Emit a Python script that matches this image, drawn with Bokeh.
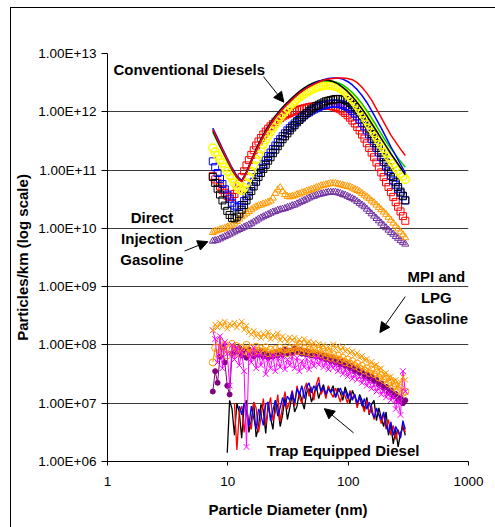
from bokeh.plotting import figure
from bokeh.models import Range1d, FixedTicker, CustomJSTickFormatter, Label, Arrow, NormalHead
from bokeh.embed import file_html
from bokeh.resources import INLINE

NAN = float("nan")

# ---------------- data (series values stored as log10 of particles/km) ----------------
diam_main = [7.50, 8.22, 9.02, 9.89, 10.84, 11.89, 13.03, 14.29, 15.67, 17.18,
             18.84, 20.65, 22.65, 24.83, 27.23, 29.85, 32.73, 35.89, 39.36, 43.15,
             47.32, 51.88, 56.89, 62.37, 68.39, 74.99, 82.22, 90.16, 98.86, 108.4,
             118.9, 130.3, 142.9, 156.7, 171.8, 188.4, 206.5, 226.5, 248.3, 272.3,
             298.5]

diam_fine = [7.50, 7.85, 8.22, 8.61, 9.02, 9.44, 9.89, 10.35, 10.84, 11.35,
             11.89, 12.45, 13.03, 13.65, 14.29, 14.96, 15.67, 16.41, 17.18, 17.99,
             18.84, 19.72, 20.65, 21.63, 22.65, 23.71, 24.83, 26.00, 27.23, 28.51,
             29.85, 31.26, 32.73, 34.28, 35.89, 37.58, 39.36, 41.21, 43.15, 45.19,
             47.32, 49.55, 51.88, 54.33, 56.89, 59.57, 62.37, 65.31, 68.39, 71.61,
             74.99, 78.52, 82.22, 86.10, 90.16, 94.41, 98.86, 103.5, 108.4, 113.5,
             118.9, 124.5, 130.3, 136.5, 142.9, 149.6, 156.7, 164.1, 171.8, 179.9,
             188.4, 197.2, 206.5, 216.3, 226.5, 237.1, 248.3, 260.0, 272.3, 285.1,
             298.5]

# Conventional diesels - plain lines (main grid)
conv_red_line = [11.70, 11.52, 11.35, 11.18, 11.02, 10.88, 10.80, 10.95, 11.15, 11.33,
                 11.50, 11.65, 11.78, 11.90, 12.00, 12.09, 12.17, 12.25, 12.32, 12.38,
                 12.43, 12.47, 12.51, 12.54, 12.56, 12.57, 12.58, 12.58, 12.57, 12.55,
                 12.50, 12.42, 12.32, 12.20, 12.05, 11.90, 11.75, 11.60, 11.48, 11.36,
                 11.25]
conv_blue_line = [11.72, 11.55, 11.37, 11.20, 11.04, 10.90, 10.82, 10.96, 11.15, 11.33,
                  11.50, 11.65, 11.78, 11.90, 12.00, 12.09, 12.17, 12.25, 12.32, 12.38,
                  12.43, 12.48, 12.52, 12.55, 12.57, 12.58, 12.58, 12.56, 12.52, 12.46,
                  12.38, 12.28, 12.16, 12.02, 11.87, 11.72, 11.56, 11.40, 11.25, 11.10,
                  10.95]
conv_green_line = [11.65, 11.48, 11.32, 11.15, 11.00, 10.87, 10.80, 10.95, 11.15, 11.34,
                   11.51, 11.66, 11.79, 11.91, 12.01, 12.10, 12.18, 12.26, 12.33, 12.39,
                   12.44, 12.48, 12.51, 12.53, 12.53, 12.52, 12.50, 12.46, 12.40, 12.33,
                   12.24, 12.14, 12.02, 11.89, 11.76, 11.62, 11.49, 11.37, 11.26, 11.15,
                   11.05]
conv_black_line = [11.68, 11.50, 11.33, 11.17, 11.01, 10.88, 10.81, 10.97, 11.17, 11.36,
                   11.53, 11.68, 11.81, 11.93, 12.03, 12.12, 12.20, 12.28, 12.35, 12.41,
                   12.46, 12.50, 12.53, 12.54, 12.54, 12.52, 12.48, 12.42, 12.35, 12.26,
                   12.16, 12.05, 11.93, 11.80, 11.67, 11.54, 11.41, 11.28, 11.16, 11.04,
                   10.92]

# Conventional diesels - marker series (fine grid)
conv_yellow_circle = [11.38, 11.31, 11.25, 11.18, 11.12, 11.05, 10.98, 10.91, 10.85, 10.78,
                      10.72, 10.67, 10.65, 10.70, 10.78, 10.88, 10.98, 11.08, 11.18, 11.27,
                      11.36, 11.44, 11.52, 11.59, 11.66, 11.73, 11.79, 11.85, 11.91, 11.96,
                      12.01, 12.06, 12.10, 12.14, 12.18, 12.22, 12.25, 12.28, 12.31, 12.34,
                      12.36, 12.38, 12.40, 12.42, 12.43, 12.44, 12.45, 12.46, 12.46, 12.46,
                      12.45, 12.44, 12.42, 12.40, 12.37, 12.34, 12.30, 12.26, 12.21, 12.16,
                      12.10, 12.04, 11.98, 11.92, 11.85, 11.78, 11.71, 11.64, 11.57, 11.50,
                      11.43, 11.37, 11.30, 11.23, 11.17, 11.11, 11.05, 10.99, 10.94, 10.89,
                      10.84]
conv_red_square = [10.90, 10.84, 10.78, 10.72, 10.66, 10.61, 10.56, 10.54, 10.54, 10.59,
                   10.66, 10.77, 10.88, 10.98, 11.08, 11.17, 11.26, 11.34, 11.42, 11.49,
                   11.55, 11.61, 11.66, 11.71, 11.75, 11.79, 11.83, 11.86, 11.89, 11.92,
                   11.94, 11.96, 11.98, 12.00, 12.01, 12.03, 12.04, 12.05, 12.06, 12.07,
                   12.08, 12.09, 12.09, 12.10, 12.10, 12.10, 12.10, 12.10, 12.10, 12.10,
                   12.09, 12.08, 12.06, 12.04, 12.01, 11.98, 11.94, 11.90, 11.85, 11.80,
                   11.74, 11.68, 11.61, 11.54, 11.46, 11.38, 11.30, 11.22, 11.13, 11.05,
                   10.96, 10.88, 10.79, 10.71, 10.62, 10.54, 10.45, 10.37, 10.29, 10.21,
                   10.13]
conv_blue_square = [11.15, 11.05, 10.95, 10.85, 10.76, 10.67, 10.58, 10.51, 10.44, 10.39,
                    10.36, 10.37, 10.40, 10.47, 10.55, 10.63, 10.72, 10.80, 10.88, 10.96,
                    11.03, 11.10, 11.17, 11.24, 11.30, 11.36, 11.42, 11.48, 11.53, 11.58,
                    11.63, 11.68, 11.72, 11.76, 11.80, 11.84, 11.87, 11.91, 11.94, 11.97,
                    11.99, 12.02, 12.04, 12.06, 12.08, 12.10, 12.11, 12.12, 12.13, 12.14,
                    12.14, 12.14, 12.14, 12.13, 12.12, 12.10, 12.08, 12.05, 12.01, 11.97,
                    11.92, 11.87, 11.81, 11.75, 11.68, 11.61, 11.53, 11.46, 11.38, 11.30,
                    11.22, 11.14, 11.06, 10.98, 10.90, 10.82, 10.75, 10.68, 10.61, 10.55,
                    10.48]
conv_black_square = [10.88, 10.78, 10.68, 10.58, 10.48, 10.39, 10.30, 10.23, 10.18, 10.17,
                     10.20, 10.25, 10.32, 10.40, 10.48, 10.56, 10.64, 10.72, 10.80, 10.88,
                     10.95, 11.02, 11.09, 11.16, 11.22, 11.29, 11.35, 11.41, 11.47, 11.53,
                     11.58, 11.63, 11.68, 11.73, 11.77, 11.82, 11.86, 11.90, 11.94, 11.98,
                     12.01, 12.04, 12.07, 12.10, 12.12, 12.14, 12.16, 12.18, 12.19, 12.20,
                     12.21, 12.22, 12.22, 12.22, 12.21, 12.20, 12.18, 12.15, 12.12, 12.08,
                     12.04, 11.99, 11.94, 11.87, 11.80, 11.71, 11.62, 11.54, 11.46, 11.38,
                     11.30, 11.22, 11.13, 11.05, 10.96, 10.88, 10.79, 10.71, 10.63, 10.56,
                     10.48]

# Direct injection gasoline (fine grid)
di_orange_triangle = [9.93, 9.95, 9.96, 9.98, 9.99, 10.00, 10.02, 10.04, 10.06, 10.09,
                      10.12, 10.16, 10.20, 10.23, 10.26, 10.29, 10.32, 10.35, 10.37, 10.39,
                      10.40, 10.42, 10.43, 10.45, 10.47, 10.52, 10.60, 10.66, 10.70, 10.63,
                      10.58, 10.55, 10.54, 10.55, 10.56, 10.58, 10.59, 10.61, 10.62, 10.64,
                      10.65, 10.67, 10.68, 10.70, 10.71, 10.73, 10.74, 10.75, 10.76, 10.77,
                      10.77, 10.77, 10.76, 10.75, 10.74, 10.73, 10.72, 10.71, 10.69, 10.67,
                      10.65, 10.63, 10.60, 10.57, 10.54, 10.51, 10.47, 10.44, 10.40, 10.36,
                      10.32, 10.28, 10.24, 10.19, 10.14, 10.09, 10.04, 9.99, 9.94, 9.89,
                      9.84]
di_purple_triangle = [9.78, 9.79, 9.80, 9.82, 9.84, 9.86, 9.88, 9.90, 9.92, 9.94,
                      9.96, 9.98, 10.00, 10.02, 10.04, 10.06, 10.08, 10.11, 10.13, 10.16,
                      10.18, 10.20, 10.22, 10.24, 10.26, 10.28, 10.29, 10.31, 10.32, 10.33,
                      10.34, 10.36, 10.37, 10.39, 10.40, 10.42, 10.44, 10.46, 10.48, 10.50,
                      10.52, 10.54, 10.55, 10.57, 10.58, 10.59, 10.60, 10.61, 10.62, 10.62,
                      10.62, 10.62, 10.61, 10.60, 10.58, 10.57, 10.55, 10.53, 10.51, 10.49,
                      10.46, 10.43, 10.40, 10.37, 10.33, 10.29, 10.25, 10.21, 10.17, 10.13,
                      10.09, 10.05, 10.01, 9.97, 9.93, 9.90, 9.86, 9.83, 9.79, 9.76,
                      9.73]

# MPI and LPG gasoline (fine grid)
mpi_orange_x = [8.25, 8.35, 8.30, 8.38, 8.32, 8.40, 8.28, 8.36, 8.33, 8.38,
                8.30, 8.35, 8.40, 8.26, 8.33, 8.22, 8.18, 8.24, 8.15, 8.20,
                8.12, 8.19, 8.14, 8.22, 8.10, 8.17, 8.12, 8.20, 8.08, 8.15,
                8.10, 8.05, 8.13, 8.08, 8.12, 8.02, 8.09, 8.04, 8.10, 8.03,
                8.06, 7.98, 8.04, 7.99, 8.02, 7.95, 8.00, 7.93, 7.97, 7.90,
                8.01, 7.94, 7.98, 7.91, 7.96, 7.89, 7.92, 7.86, 7.89, 7.82,
                7.86, 7.78, 7.81, 7.74, 7.76, 7.68, 7.71, 7.64, 7.66, 7.58,
                7.60, 7.50, 7.52, 7.44, 7.46, 7.38, 7.40, 7.32, 7.36, 7.45,
                7.40]
mpi_orange_circle = [7.70, 7.95, 7.85, 8.05, 7.90, 8.00, 7.82, 7.95, 8.02, 7.88,
                     7.98, 7.85, 7.95, 7.90, 8.00, 7.86, 7.95, 7.88, 7.97, 7.90,
                     7.94, 7.88, 7.96, 7.86, 7.92, 7.85, 7.93, 7.87, 7.95, 7.88,
                     7.92, 7.86, 7.94, 7.88, 7.95, 7.90, 7.96, 7.89, 7.94, 7.88,
                     7.92, 7.86, 7.93, 7.85, 7.90, 7.84, 7.88, 7.80, 7.86, 7.78,
                     7.84, 7.76, 7.82, 7.74, 7.78, 7.70, 7.75, 7.68, 7.72, 7.64,
                     7.68, 7.60, 7.64, 7.56, 7.60, 7.52, 7.57, 7.50, 7.52, 7.44,
                     7.48, 7.40, 7.42, 7.34, 7.36, 7.28, 7.30, 7.22, 7.26, 7.18,
                     7.20]
mpi_purple_circle = [7.20, 7.55, 7.35, 7.80, 7.95, 7.70, 7.30, 7.15, 7.85, 7.95,
                     7.88, 7.95, 7.82, 7.90, 7.78, 7.92, 7.85, 7.80, 7.88, 7.83,
                     7.90, 7.80, 7.86, 7.78, 7.85, 7.80, 7.88, 7.82, 7.90, 7.84,
                     7.92, 7.85, 7.90, 7.86, 7.94, 7.88, 7.92, 7.85, 7.90, 7.84,
                     7.88, 7.82, 7.86, 7.80, 7.84, 7.78, 7.82, 7.75, 7.80, 7.72,
                     7.78, 7.70, 7.74, 7.66, 7.72, 7.64, 7.68, 7.60, 7.64, 7.55,
                     7.60, 7.52, 7.55, 7.46, 7.50, 7.42, 7.46, 7.38, 7.40, 7.32,
                     7.34, 7.26, 7.28, 7.18, 7.22, 7.12, 7.16, 7.05, 7.10, 7.00,
                     7.05]
mpi_magenta_x = [8.25, 8.10, 7.70, 8.15, 7.60, 8.05, 7.85, 7.30, 8.00, 7.75,
                 7.95, 7.65, 7.90, 7.55, 6.25, 7.85, 7.70, 7.95, 7.60, 7.85,
                 7.65, 7.80, 7.50, 7.75, 7.60, 7.82, 7.55, 7.78, 7.62, 7.80,
                 7.58, 7.75, 7.65, 7.80, 7.60, 7.78, 7.55, 7.72, 7.62, 7.76,
                 7.58, 7.74, 7.64, 7.80, 7.66, 7.75, 7.62, 7.70, 7.58, 7.68,
                 7.60, 7.66, 7.55, 7.62, 7.50, 7.58, 7.46, 7.55, 7.42, 7.50,
                 7.40, 7.46, 7.35, 7.42, 7.30, 7.38, 7.25, 7.32, 7.20, 7.28,
                 7.15, 7.22, 7.10, 7.18, 7.05, 7.12, 6.90, 7.05, 6.80, 7.55,
                 7.20]

# Trap equipped diesel (fine grid)
trap_black = [NAN, NAN, NAN, NAN, NAN, NAN, 6.15, 7.05, 6.90, 6.45,
              7.00, 6.85, 6.40, 6.95, 7.05, 6.50, 6.70, 7.02, 6.42, 6.60,
              6.98, 6.88, 6.48, 7.00, 6.75, 6.55, 7.05, 6.95, 6.60, 6.80,
              7.10, 6.72, 6.92, 7.15, 6.85, 6.95, 7.20, 7.05, 6.90, 7.18,
              7.25, 7.02, 7.15, 7.30, 7.08, 7.22, 7.32, 7.12, 7.28, 7.20,
              7.30, 7.10, 7.26, 7.18, 7.05, 7.28, 7.15, 7.00, 7.22, 7.12,
              6.95, 7.15, 7.05, 6.88, 7.10, 6.80, 6.98, 7.05, 6.70, 6.92,
              6.75, 6.60, 6.85, 6.45, 6.62, 6.30, 6.55, 6.25, 6.48, 6.60,
              6.45]
trap_red = [NAN, NAN, NAN, NAN, NAN, NAN, NAN, NAN, NAN, 7.00,
            6.20, 6.85, 6.95, 6.50, 6.88, 6.70, 6.55, 7.02, 6.92, 6.50,
            6.75, 7.08, 6.62, 6.90, 7.10, 6.70, 6.85, 7.15, 6.68, 6.95,
            7.20, 6.90, 7.05, 7.22, 6.95, 7.30, 7.10, 7.00, 7.25, 7.35,
            7.12, 7.28, 7.05, 7.32, 7.45, 7.15, 7.25, 7.08, 7.30, 7.18,
            7.10, 7.26, 7.15, 7.02, 7.20, 7.12, 7.00, 7.22, 7.08, 7.15,
            6.92, 7.10, 6.98, 6.85, 7.05, 6.82, 6.95, 6.72, 6.90, 6.80,
            6.65, 6.82, 6.55, 6.72, 6.45, 6.62, 6.38, 6.55, 6.42, 6.65,
            6.50]
trap_blue = [NAN, NAN, NAN, NAN, NAN, NAN, NAN, NAN, NAN, NAN,
             NAN, 6.95, 6.80, 7.00, 6.85, 6.60, 6.95, 6.75, 6.55, 6.90,
             6.80, 6.62, 6.98, 7.02, 6.70, 6.88, 7.05, 6.78, 6.92, 7.10,
             6.95, 7.12, 7.05, 7.20, 7.00, 7.25, 7.15, 7.30, 7.08, 7.28,
             7.35, 7.18, 7.30, 7.22, 7.35, 7.20, 7.28, 7.15, 7.25, 7.18,
             7.24, 7.10, 7.20, 7.26, 7.14, 7.22, 7.08, 7.18, 7.05, 7.15,
             7.00, 7.12, 6.95, 7.08, 6.90, 7.02, 6.85, 6.75, 6.92, 6.80,
             6.72, 6.85, 6.62, 6.50, 6.68, 6.45, 6.60, 6.52, 6.40, 6.70,
             6.55]

x_ticks = [1, 10, 100, 1000]
x_tick_labels = ["1", "10", "100", "1000"]
y_ticks = [1e6, 1e7, 1e8, 1e9, 1e10, 1e11, 1e12, 1e13]
y_tick_labels = ["1.00E+06", "1.00E+07", "1.00E+08", "1.00E+09",
                 "1.00E+10", "1.00E+11", "1.00E+12", "1.00E+13"]


def vals(logs):
    return [10 ** v if v == v else NAN for v in logs]


FONT = "Liberation Sans"

p = figure(x_axis_type="log", y_axis_type="log",
           x_range=Range1d(1, 1000), y_range=Range1d(1e6, 1e13),
           frame_width=361, frame_height=408,
           min_border_left=95, min_border_right=28, min_border_top=45, min_border_bottom=66,
           output_backend="svg", toolbar_location=None,
           background_fill_color="white", border_fill_color="white")
p.styles = {"margin-left": "10px", "margin-top": "7px",
            "border-left": "1px solid black", "border-top": "1px solid black"}
p.outline_line_color = None
p.xgrid.visible = False
p.ygrid.grid_line_color = "#3c3c3c"
p.ygrid.grid_line_width = 1
p.ygrid.ticker = FixedTicker(ticks=y_ticks)

p.xaxis.ticker = FixedTicker(ticks=x_ticks)
p.xaxis.formatter = CustomJSTickFormatter(args=dict(labels=x_tick_labels),
                                          code="return labels[Math.round(Math.log10(tick))];")
p.yaxis.ticker = FixedTicker(ticks=y_ticks)
p.yaxis.formatter = CustomJSTickFormatter(args=dict(labels=y_tick_labels),
                                          code="return labels[Math.round(Math.log10(tick)) - 6];")
for ax in (p.xaxis[0], p.yaxis[0]):
    ax.axis_line_color = "black"
    ax.axis_line_width = 1
    ax.major_tick_line_color = "black"
    ax.major_tick_in = 0
    ax.minor_tick_in = 0
    ax.minor_tick_out = 0
    ax.major_label_text_font = FONT
    ax.major_label_text_font_size = "13.5px"
    ax.major_label_text_color = "black"
    ax.axis_label_text_font = FONT
    ax.axis_label_text_font_size = "15px"
    ax.axis_label_text_font_style = "bold"
    ax.axis_label_text_color = "black"
p.xaxis.major_tick_out = 4
p.yaxis.major_tick_out = 6
p.xaxis.major_label_standoff = 11
p.yaxis.major_label_standoff = 5
p.xaxis.axis_label = "Particle Diameter (nm)"
p.yaxis.axis_label = "Particles/km (log scale)"
p.xaxis.axis_label_standoff = 12
p.yaxis.axis_label_standoff = 4

# Trap equipped diesel (lines)
for ys, c in ((trap_black, "black"), (trap_red, "#FF0000"), (trap_blue, "#0000FF")):
    p.line(diam_fine, vals(ys), line_color=c, line_width=1.3)

# MPI / LPG gasoline
p.line(diam_fine, vals(mpi_purple_circle), line_color="#800080", line_width=1)
p.scatter(diam_fine, vals(mpi_purple_circle), marker="circle", size=5,
          fill_color="#800080", line_color="#800080")
p.line(diam_fine, vals(mpi_orange_circle), line_color="#FF9900", line_width=1)
p.scatter(diam_fine, vals(mpi_orange_circle), marker="circle", size=7,
          fill_color=None, line_color="#FF9900")
p.line(diam_fine, vals(mpi_magenta_x), line_color="#FF00FF", line_width=1)
p.scatter(diam_fine, vals(mpi_magenta_x), marker="x", size=8, line_color="#FF00FF")
p.line(diam_fine, vals(mpi_orange_x), line_color="#FF9900", line_width=1)
p.scatter(diam_fine, vals(mpi_orange_x), marker="x", size=8, line_color="#FF9900")

# Direct injection gasoline
p.scatter(diam_fine, vals(di_purple_triangle), marker="triangle", size=7,
          fill_color=None, line_color="#7030A0", line_width=1)
p.scatter(diam_fine, vals(di_orange_triangle), marker="triangle", size=7,
          fill_color=None, line_color="#FF9900", line_width=1)

# Conventional diesels (markers)
for ys, c, m, s, w in ((conv_red_square, "#FF0000", "square", 7, 1),
                       (conv_blue_square, "#0000FF", "square", 7, 1),
                       (conv_black_square, "black", "square", 7, 1),
                       (conv_yellow_circle, "#FFFF00", "circle", 8, 1.5)):
    p.scatter(diam_fine, vals(ys), marker=m, size=s, fill_color=None,
              line_color=c, line_width=w)

# Conventional diesels (lines)
for ys, c in ((conv_green_line, "#00CC00"), (conv_black_line, "black"),
              (conv_blue_line, "#0000FF"), (conv_red_line, "#FF0000")):
    p.line(diam_main, vals(ys), line_color=c, line_width=1.5)

# Annotations
def lab(text, x, y, align="left"):
    p.add_layout(Label(x=x, y=y, text=text, text_font=FONT, text_font_size="15px",
                       text_font_style="bold", text_color="black",
                       text_align=align, text_baseline="middle"))

lab("Conventional Diesels", 1.12, 5.24e12)
lab("Direct", 2.34, 1.56e10, "center")
lab("Injection", 2.34, 6.8e9, "center")
lab("Gasoline", 2.34, 2.97e9, "center")
lab("MPI and", 540, 1.51e9, "center")
lab("LPG", 540, 6.46e8, "center")
lab("Gasoline", 540, 2.82e8, "center")
lab("Trap Equipped Diesel", 21.1, 1.57e6)

for xs, ys, xe, ye in ((19.8, 4.0e12, 29.2, 1.46e12),
                       (4.37, 4.09e9, 6.82, 5.92e9),
                       (298, 6.73e8, 183.4, 1.63e8),
                       (110.9, 3.1e6, 63.4, 8.07e6)):
    p.add_layout(Arrow(end=NormalHead(size=10, fill_color="black", line_color="black"),
                       x_start=xs, y_start=ys, x_end=xe, y_end=ye,
                       line_color="black", line_width=1))

open("out.html", "w").write(file_html(p, INLINE))
